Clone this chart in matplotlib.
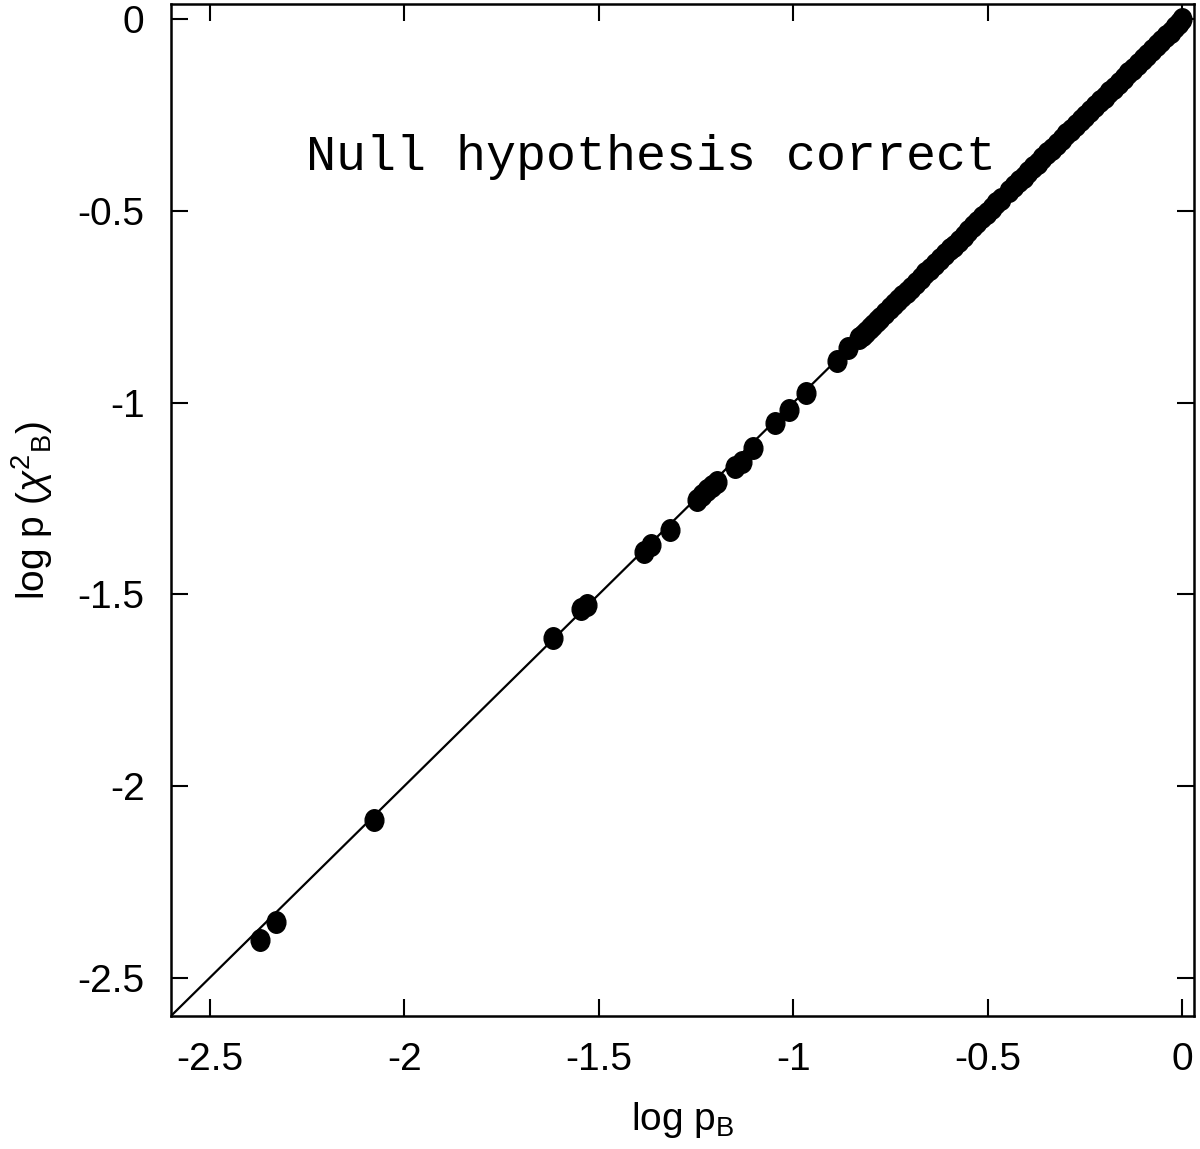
import numpy as np
import matplotlib
matplotlib.use('Agg')
import matplotlib.pyplot as plt
from matplotlib.path import Path
from matplotlib.transforms import Affine2D

plt.rcParams.update({'font.family': ['Liberation Sans Narrow', 'Liberation Sans', 'DejaVu Sans'],
                     'mathtext.fontset': 'custom',
                     'mathtext.rm': 'Liberation Sans',
                     'mathtext.it': 'Liberation Sans:italic',
                     'axes.unicode_minus': False,
                     'axes.linewidth': 1.8})

# p-values (log10)
log_pb = [-2.371, -2.330, -2.079, -1.618, -1.545, -1.530, -1.383, -1.365, -1.318,
          -1.249, -1.236, -1.223, -1.210, -1.197, -1.151, -1.133, -1.104, -1.047,
          -1.011, -0.967, -0.888, -0.859, -0.831,
          -0.822, -0.812, -0.803, -0.795, -0.785, -0.776, -0.764, -0.752, -0.741,
          -0.731, -0.720, -0.709, -0.698,
          -0.685, -0.672, -0.661, -0.648, -0.637, -0.624, -0.611, -0.598, -0.588,
          -0.575, -0.562, -0.551, -0.538, -0.527, -0.514, -0.502, -0.490, -0.478, -0.466,
          -0.445, -0.433, -0.421, -0.408, -0.396, -0.384, -0.372, -0.360, -0.347,
          -0.335, -0.322, -0.310, -0.298, -0.286, -0.273, -0.261, -0.249, -0.237,
          -0.224, -0.212, -0.200, -0.188, -0.176, -0.163, -0.151, -0.139, -0.127,
          -0.115, -0.102, -0.090, -0.078, -0.066, -0.054, -0.042, -0.030, -0.019,
          -0.008, 0.000]
log_pchi = [-2.401, -2.354, -2.088, -1.614, -1.538, -1.528, -1.389, -1.371, -1.332,
            -1.254, -1.241, -1.228, -1.217, -1.207, -1.168, -1.155, -1.118, -1.053,
            -1.019, -0.975, -0.892, -0.858, -0.832,
            -0.824, -0.815, -0.805, -0.797, -0.788, -0.778, -0.766, -0.754, -0.743,
            -0.733, -0.722, -0.711, -0.700,
            -0.687, -0.674, -0.663, -0.650, -0.639, -0.626, -0.613, -0.600, -0.590,
            -0.577, -0.564, -0.553, -0.540, -0.529, -0.516, -0.504, -0.492, -0.480, -0.468,
            -0.447, -0.435, -0.423, -0.410, -0.398, -0.386, -0.374, -0.362, -0.349,
            -0.337, -0.324, -0.312, -0.300, -0.288, -0.275, -0.263, -0.251, -0.239,
            -0.226, -0.214, -0.202, -0.190, -0.178, -0.165, -0.153, -0.141, -0.129,
            -0.117, -0.104, -0.092, -0.080, -0.068, -0.056, -0.044, -0.032, -0.021,
            -0.009, 0.000]
diag = [-2.6, 0.0]
xticks = [-2.5, -2, -1.5, -1, -0.5, 0]
yticks = [-2.5, -2, -1.5, -1, -0.5, 0]
tick_labels = ['-2.5', '-2', '-1.5', '-1', '-0.5', '0']

fig = plt.figure(figsize=(12, 11.49), dpi=100)
ax = fig.add_axes([0.1425, 0.1158, 0.8525, 0.8807])

ax.plot(diag, diag, color='black', lw=1.6, zorder=2)
ellipse = Path.unit_circle().transformed(Affine2D().scale(0.87, 1.0))
ax.plot(log_pb, log_pchi, ls='none', marker=ellipse, ms=15.5, color='black', zorder=3)

ax.set_xlim(-2.6, 0.03)
ax.set_ylim(-2.6, 0.04)
ax.set_xticks(xticks)
ax.set_xticklabels(tick_labels)
ax.set_yticks(yticks)
ax.set_yticklabels(tick_labels)
ax.tick_params(direction='in', top=True, right=True, length=12, width=1.5,
               labelsize=28)
ax.tick_params(axis='x', pad=19)
ax.tick_params(axis='y', pad=19)

ax.set_xlabel('log p$_{\\rm B}$', fontsize=28)
ax.xaxis.set_label_coords(0.5, -0.083)
ax.set_ylabel('log p ($\\chi^{2}$$_{\\rm B}$)', fontsize=28)
ax.yaxis.set_label_coords(-0.113, 0.5)

ax.text(-1.365, -0.36, 'Null hypothesis correct', family=['Liberation Mono', 'DejaVu Sans Mono'],
        fontsize=36, ha='center', va='center')

fig.savefig('out.png', dpi=100)
